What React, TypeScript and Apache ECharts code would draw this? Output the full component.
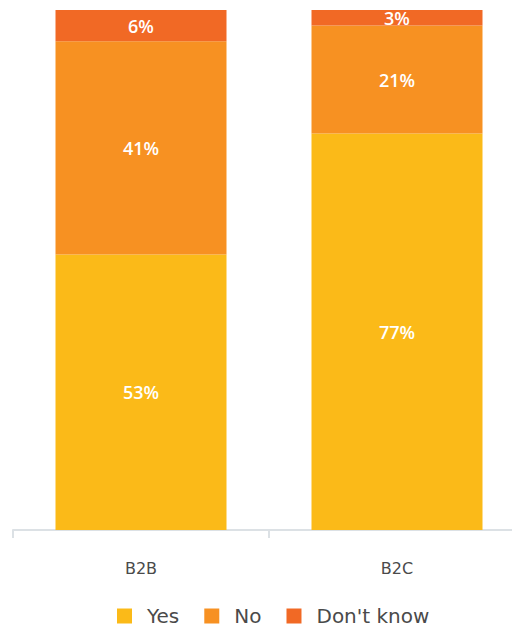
import React, { useEffect, useRef } from "react";
import * as echarts from "echarts";

const categories = ["B2B", "B2C"];
const yesValues = [53, 77];
const noValues = [41, 21];
const dontKnowValues = [6, 3];
const seriesNames = ["Yes", "No", "Don't know"];
const seriesColors = ["#FBBA18", "#F79122", "#F16925"];

export default function App() {
  const ref = useRef<HTMLDivElement>(null);
  useEffect(() => {
    if (!ref.current) return;
    const chart = echarts.init(ref.current, undefined, { renderer: "svg" });
    const raw = [yesValues, noValues, dontKnowValues];
    const totals = categories.map((_, i) => raw.reduce((s, arr) => s + arr[i], 0));
    const series = raw.map((arr, k) => ({
      name: seriesNames[k],
      type: "bar",
      stack: "total",
      barWidth: 171,
      data: arr.map((v, i) => (v / totals[i]) * 100),
      itemStyle: {
        color: seriesColors[k],
        borderWidth: 0,
      },
      label: {
        show: true,
        position: "inside",
        color: "#ffffff",
        fontFamily: "Open Sans",
        fontWeight: 600,
        fontSize: 18,
        formatter: (p: any) => `${arr[p.dataIndex]}%`,
      },
    }));
    chart.setOption({
      animation: false,
      grid: { left: 13, top: 10, width: 512, height: 520 },
      legend: {
        data: seriesNames,
        top: 601,
        left: 112,
        icon: "rect",
        itemWidth: 15,
        itemHeight: 15,
        itemGap: 25,
        textStyle: {
          fontFamily: "DejaVu Sans",
          fontSize: 20,
          color: "#4a4a4a",
          padding: [0, 0, 0, 10],
        },
      },
      xAxis: {
        type: "category",
        data: categories,
        axisLine: { lineStyle: { color: "#DCE1E5", width: 2 } },
        axisTick: { show: true, length: 8, lineStyle: { color: "#DCE1E5", width: 2 } },
        axisLabel: {
          margin: 30,
          fontFamily: "DejaVu Sans",
          fontSize: 16,
          color: "#4a4a4a",
        },
      },
      yAxis: {
        type: "value",
        min: 0,
        max: 100,
        show: false,
      },
      series,
    });
    return () => chart.dispose();
  }, []);
  return (
    <div style={{ position: "absolute", left: 0, top: 0, width: 512, height: 629, overflow: "hidden" }}>
      <div ref={ref} style={{ width: 540, height: 629 }} />
    </div>
  );
}
